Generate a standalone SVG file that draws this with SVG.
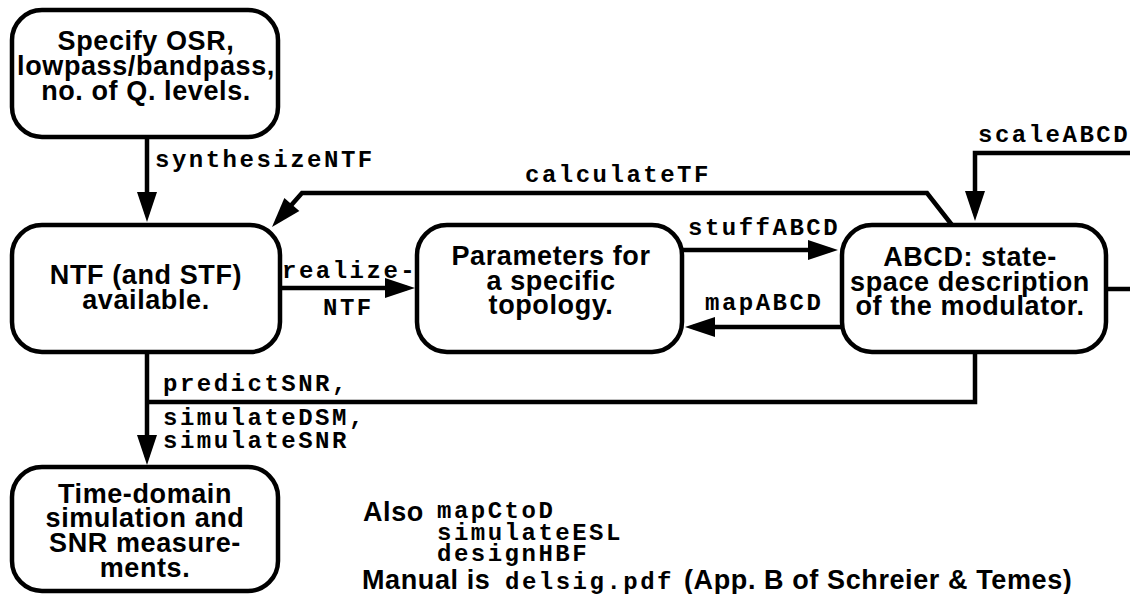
<svg xmlns="http://www.w3.org/2000/svg" width="1130" height="594" viewBox="0 0 1130 594">
<style>
.box{fill:#fff;stroke:#000;stroke-width:4.5}
.lbl{font-family:"Liberation Sans",Arial,sans-serif;font-weight:bold;font-size:27px;letter-spacing:0.6px;fill:#000}
.mono{font-family:"Liberation Mono","Courier New",monospace;font-weight:bold;font-size:24px;letter-spacing:2.5px;fill:#000}
.wire{fill:none;stroke:#000;stroke-width:4.5;stroke-linejoin:miter}
</style>
<defs>
<marker id="arr" markerUnits="userSpaceOnUse" markerWidth="30" markerHeight="20" refX="22" refY="10" orient="auto" overflow="visible">
<path d="M0,0 L30,10 L0,20 z" fill="#000"/>
</marker>
</defs>
<rect width="1130" height="594" fill="#fff"/>
<g id="connectors">
<path class="wire" d="M147,138 V214" marker-end="url(#arr)"/>
<path class="wire" d="M952,225 L927,193 L302,193 L277.3,221" marker-end="url(#arr)"/>
<path class="wire" d="M280,288 H407" marker-end="url(#arr)"/>
<path class="wire" d="M682,250 H830" marker-end="url(#arr)"/>
<path class="wire" d="M842,327 H693" marker-end="url(#arr)"/>
<path class="wire" d="M1130,153 H975 V213" marker-end="url(#arr)"/>
<path class="wire" d="M1106,289 H1130"/>
<path class="wire" d="M975,352 V402 H147"/>
<path class="wire" d="M147,352 V457" marker-end="url(#arr)"/>
<text class="mono" x="155" y="167">synthesizeNTF</text>
<text class="mono" x="525" y="182">calculateTF</text>
<text class="mono" x="688" y="235">stuffABCD</text>
<text class="mono" x="705" y="310">mapABCD</text>
<text class="mono" x="282" y="278">realize-</text>
<text class="mono" x="323" y="315">NTF</text>
<text class="mono" x="978" y="142">scaleABCD</text>
<text class="mono" x="163" y="391">predictSNR,</text>
<text class="mono" x="163" y="425">simulateDSM,</text>
<text class="mono" x="163" y="448">simulateSNR</text>
</g>
<g id="n-spec">
<rect class="box" x="12" y="10" width="266" height="127" rx="30"/>
<text class="lbl" text-anchor="middle" x="146" y="50">Specify OSR,<tspan x="146" y="75">lowpass/bandpass,</tspan><tspan x="146" y="100">no. of Q. levels.</tspan></text>
</g>
<g id="n-ntf">
<rect class="box" x="12" y="225" width="268" height="127" rx="30"/>
<text class="lbl" text-anchor="middle" x="146" y="284">NTF (and STF)<tspan x="146" y="309">available.</tspan></text>
</g>
<g id="n-param">
<rect class="box" x="417" y="225" width="265" height="127" rx="30"/>
<text class="lbl" text-anchor="middle" x="551" y="265">Parameters for<tspan x="551" y="290">a specific</tspan><tspan x="551" y="314">topology.</tspan></text>
</g>
<g id="n-abcd">
<rect class="box" x="842" y="225" width="264" height="127" rx="30"/>
<text class="lbl" text-anchor="middle" x="970" y="266">ABCD: state-<tspan x="970" y="291">space description</tspan><tspan x="970" y="315">of the modulator.</tspan></text>
</g>
<g id="n-time">
<rect class="box" x="12" y="467" width="266" height="124" rx="30"/>
<text class="lbl" text-anchor="middle" x="145" y="503">Time-domain<tspan x="145" y="527">simulation and</tspan><tspan x="145" y="552">SNR measure-</tspan><tspan x="145" y="577">ments.</tspan></text>
</g>
<g id="notes">
<text class="lbl" x="363" y="521">Also</text>
<text class="mono" x="437" y="518">mapCtoD</text>
<text class="mono" x="437" y="540">simulateESL</text>
<text class="mono" x="437" y="561">designHBF</text>
<text class="lbl" x="362" y="589">Manual is</text>
<text class="mono" x="505" y="589">delsig.pdf</text>
<text class="lbl" x="684" y="589">(App. B of Schreier &amp; Temes)</text>
</g>
</svg>
